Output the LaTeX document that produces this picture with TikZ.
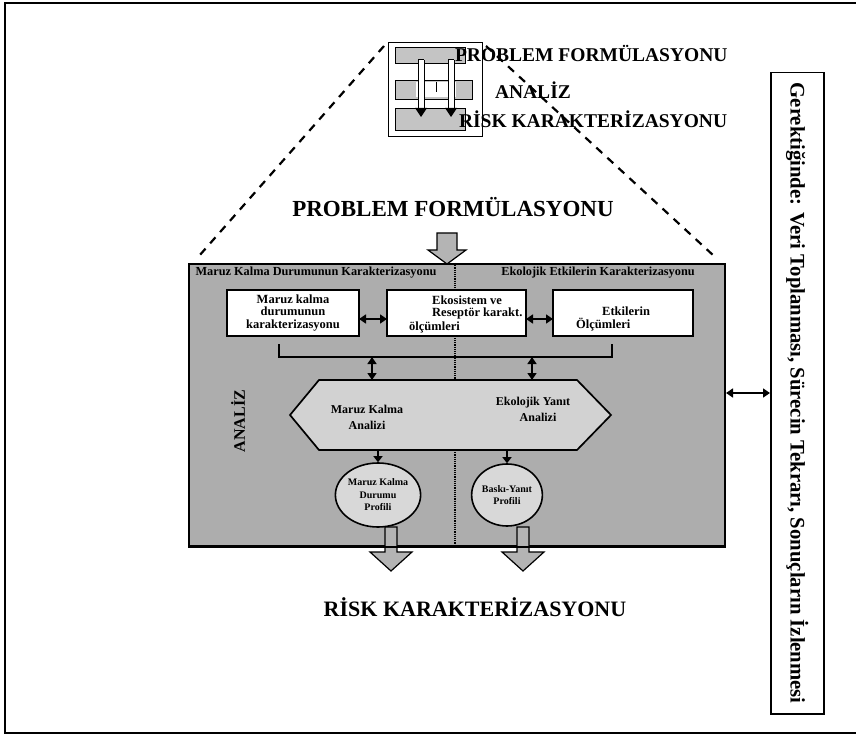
\documentclass[tikz,border=0pt]{standalone}
\usepackage{fontspec}
\setmainfont{Liberation Serif}
\usetikzlibrary{arrows.meta,calc,shapes.geometric}
\definecolor{mgray}{HTML}{ADADAD}
\definecolor{hgray}{HTML}{D2D2D2}
\definecolor{egray}{HTML}{D8D8D8}
\definecolor{agray}{HTML}{B4B4B4}
\definecolor{sgray}{HTML}{C4C4C4}
\begin{document}
\begin{tikzpicture}[x=1pt,y=-1pt,
  lbl/.style={font=\bfseries, inner sep=0pt, outer sep=0pt},
  wbox/.style={draw, fill=white, line width=1.6pt, inner sep=0pt, outer sep=0pt, minimum height=46pt},
  btxt/.style={inner sep=0pt, font=\bfseries\fontsize{12.5}{12.5}\selectfont},
  dbl/.style={{Triangle[length=7pt,width=9pt]}-{Triangle[length=7pt,width=9pt]}, line width=1.5pt},
  sarr/.style={-{Triangle[length=6pt,width=9pt]}, line width=1.5pt},
  blk/.style={draw, line width=1.2pt, fill=agray, line join=miter},
  dsh/.style={line width=2.2pt, dash pattern=on 8pt off 7pt},
  ell/.style={draw, ellipse, fill=egray, line width=1.6pt, inner sep=0pt, align=center, font=\bfseries\fontsize{10}{12.5}\selectfont}
]
\useasboundingbox (0,0) rectangle (856,735);
\fill[white] (0,0) rectangle (856,735);
% outer frame
\draw[line width=1.3pt] (856,3) -- (5,3) -- (5,733) -- (856,733);

% top icon
\node[draw, line width=1.3pt, minimum width=94pt, minimum height=94pt, inner sep=0pt, anchor=north west] (icon) at (388,42) {};
\draw[line width=0.9pt, fill=sgray] (395,47) rectangle (465,63);
\draw[line width=0.9pt, fill=sgray] (395,80) rectangle (472,99);
\fill[white] (416,82) rectangle (456,97);
\draw[line width=0.9pt, fill=sgray] (395,108) rectangle (465,130);
\draw[line width=1pt] (436,82) -- (436,92);
\foreach \tx in {421,451}{
  \fill[white] (\tx-3,60) rectangle (\tx+3,110);
  \draw[line width=1pt] (\tx-3,60) -- (\tx-3,110) (\tx+3,60) -- (\tx+3,110) (\tx-3,60) -- (\tx+3,60);
  \fill (\tx-6,108) -- (\tx+6,108) -- (\tx,117) -- cycle;
}
\node[lbl, anchor=west, font=\bfseries\fontsize{19.5}{20}\selectfont] (t1) at (455,53) {PROBLEM FORMÜLASYONU};
\node[lbl, anchor=west, font=\bfseries\fontsize{19.5}{20}\selectfont] (t2) at (495,90) {ANALİZ};
\node[lbl, anchor=west, font=\bfseries\fontsize{19.5}{20}\selectfont] (t3) at (459,119) {RİSK KARAKTERİZASYONU};

% dashed lines
\coordinate (dl1) at (384,46);
\coordinate (dl2) at (199,256);
\coordinate (dr1) at (486,46);
\coordinate (dr2) at (714,256);
\draw[dsh] (dl1) -- (dl2);
\draw[dsh] (dr1) -- (dr2);

% main title
\node[lbl, font=\bfseries\fontsize{23}{24}\selectfont] (pf) at (453,207) {PROBLEM FORMÜLASYONU};

% main box
\node[draw, fill=mgray, line width=2pt, minimum width=536pt, minimum height=282pt, inner sep=0pt, anchor=north west] (main) at (188,263) {};
\draw[line width=1.2pt, densely dotted] (455,263) -- (455,545);

% top block arrow
\draw[blk] (437,233) -- (457,233) -- (457,250) -- (466,250) -- (447,264) -- (428,250) -- (437,250) -- cycle;

% headings
\node[lbl, font=\bfseries\fontsize{12.3}{13}\selectfont] (h1) at (316,273) {Maruz Kalma Durumunun Karakterizasyonu};
\node[lbl, font=\bfseries\fontsize{12.3}{13}\selectfont] (h2) at (598,273) {Ekolojik Etkilerin Karakterizasyonu};

% boxes
\node[wbox, minimum width=132pt, anchor=north west] (b1) at (227,290) {};
\node[btxt, align=center] (b1t) at (b1.center) {Maruz kalma\\durumunun\\karakterizasyonu};
\node[wbox, minimum width=139pt, anchor=north west] (b2) at (387,290) {};
\node[btxt, align=left, anchor=west] (b2t) at (409,314) {\hspace*{23pt}Ekosistem ve\\\hspace*{23pt}Reseptör karakt.\\[1pt]ölçümleri};
\node[wbox, minimum width=140pt, anchor=north west] (b3) at (553,290) {};
\node[btxt, align=left, anchor=west] (b3t) at (576,319) {\hspace*{26pt}Etkilerin\\Ölçümleri};
\draw[dbl] (b1.east |- 0,319) -- (b2.west |- 0,319);
\draw[dbl] (b2.east |- 0,319) -- (b3.west |- 0,319);

% bracket
\coordinate (brl) at (279,357);
\coordinate (brr) at (612,357);
\draw[line width=1.7pt] (279,344) -- (brl) -- (brr) -- (612,344);

% hexagon
\coordinate (hxl) at (290,415);
\coordinate (hxr) at (611,415);
\draw[line width=1.7pt, fill=hgray] (hxl) -- (319,380) -- (577,380) -- (hxr) -- (577,450) -- (319,450) -- cycle;
\node[lbl, align=center, font=\bfseries\fontsize{12}{16}\selectfont] (ma) at (367,417) {Maruz Kalma\\Analizi};
\node[lbl, align=center, font=\bfseries\fontsize{12}{16}\selectfont] (ya) at (533,409) {Ekolojik Yanıt\\\hspace*{10pt}Analizi};
\coordinate (hx1) at (372,380);
\coordinate (hx2) at (532,380);
\draw[dbl] (372,357) -- (hx1);
\draw[dbl] (532,357) -- (hx2);

% ellipses
\node[ell, minimum width=66pt, minimum height=64pt] (e1) at (378,495) {Maruz Kalma\\Durumu\\Profili};
\node[ell, minimum width=68pt, minimum height=62pt] (e2) at (507,495) {Baskı-Yanıt\\Profili};
\draw[sarr] (e1.north |- 0,450) -- (e1.north);
\draw[sarr] (e2.north |- 0,450) -- (e2.north);

% ANALIZ vertical
\node[lbl, rotate=90, font=\bfseries\fontsize{16}{17}\selectfont] (an) at (238,421) {ANALİZ};

% bottom block arrows
\foreach \cx in {391,523}{
  \draw[blk] (\cx-6,527) -- (\cx+6,527) -- (\cx+6,552) -- (\cx+21,552) -- (\cx,571) -- (\cx-21,552) -- (\cx-6,552) -- cycle;
}
\draw[line width=2pt] (main.south west) -- (main.south east);

% bottom title
\node[lbl, font=\bfseries\fontsize{22}{23}\selectfont] (rk) at (475,607) {RİSK KARAKTERİZASYONU};

% right box
\node[draw, line width=1.5pt, minimum width=53pt, minimum height=641pt, inner sep=0pt, anchor=north west] (rb) at (770,72) {};
\node[lbl, rotate=-90, font=\bfseries\fontsize{20.7}{21}\selectfont] (rbt) at (rb.center) {Gerektiğinde: Veri Toplanması, Sürecin Tekrarı, Sonuçların İzlenmesi};
\draw[dbl] (main.east |- 0,393) -- (rb.west |- 0,393);
\end{tikzpicture}
\end{document}
